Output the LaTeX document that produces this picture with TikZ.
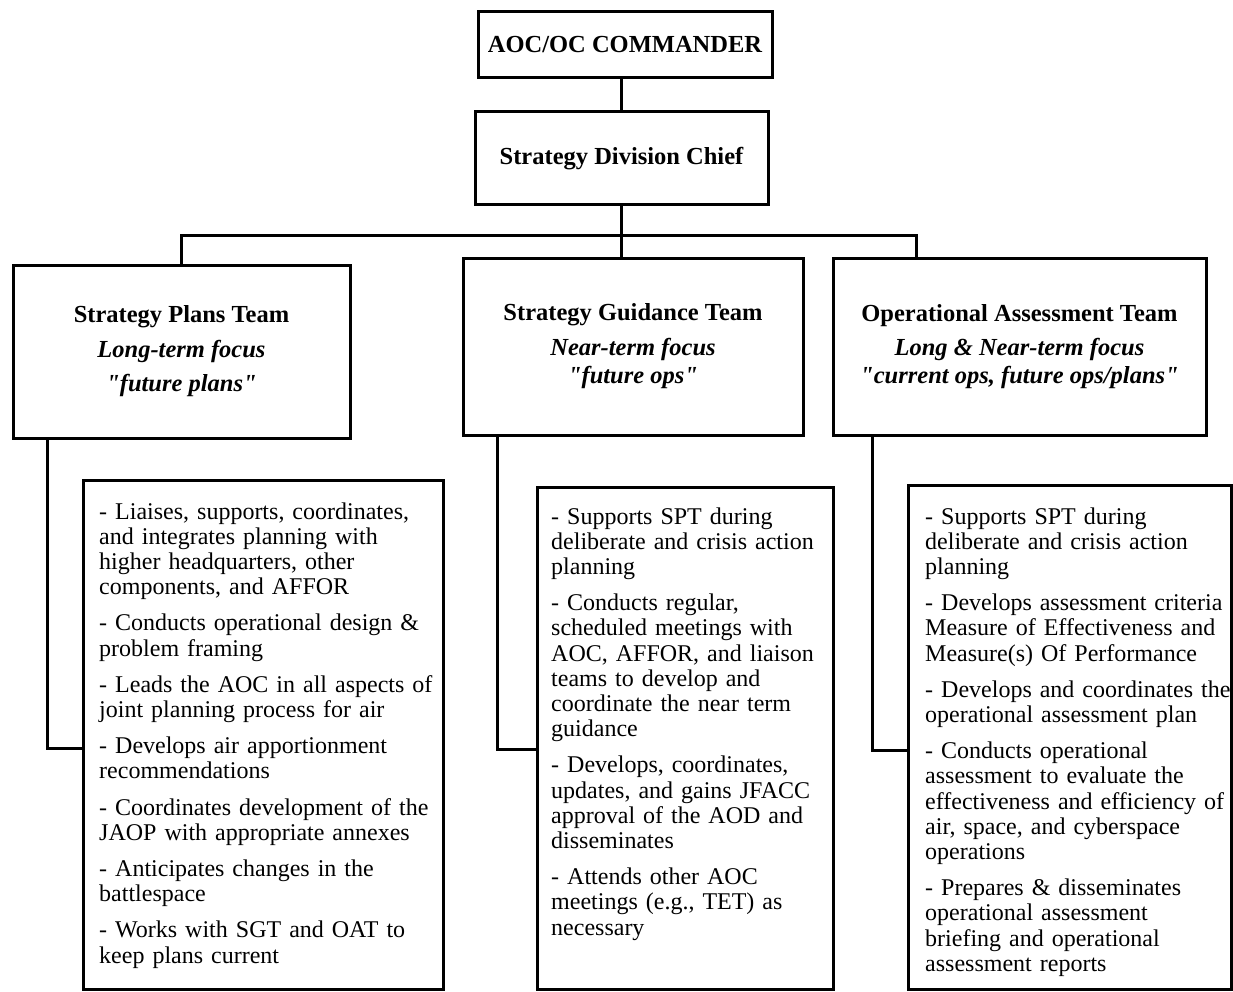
\documentclass[tikz,border=0pt]{standalone}
\usepackage{fontspec}
% no TeX input mapping, so " stays a straight double quote
\setmainfont{Liberation Serif}[Ligatures=TeXOff]
\begin{document}
\begin{tikzpicture}[x=1pt,y=-1pt,
  box/.style={draw, line width=3pt, inner sep=0pt, align=center},
  conn/.style={line width=3pt},
  headfont/.style={font=\fontsize{24.5}{25}\selectfont\bfseries},
  bodytext/.style={inner sep=0pt, anchor=base west, text width=360pt, align=left,
                   font=\fontsize{24}{25.2}\selectfont}]
\useasboundingbox[fill=white] (0,0) rectangle (1233,992);

% command chain
\node[box, headfont, minimum width=294pt, minimum height=66pt] (cmd) at (625,45) {AOC/OC COMMANDER};
\node[box, headfont, minimum width=293pt, minimum height=93pt] (chief) at (621.5,158.5) {Strategy Division Chief};

% team boxes
\node[box, headfont, minimum width=337pt, minimum height=173pt] (spt) at (181.5,351.5)
  {Strategy Plans Team\\[10pt]\textit{Long-term focus}\\[9pt]\textit{"future plans"}};
\node[box, headfont, minimum width=340pt, minimum height=177pt] (sgt) at (633,346.5)
  {Strategy Guidance Team\\[10pt]\textit{Near-term focus}\\[3pt]\textit{"future ops"}};
\node[box, headfont, minimum width=373pt, minimum height=177pt] (oat) at (1019.5,346.5)
  {Operational Assessment Team\\[9pt]\textit{Long \& Near-term focus}\\[3pt]\textit{"current ops, future ops/plans"}};

% duty boxes
\node[box, minimum width=360pt, minimum height=509pt] (sptd) at (263,734.5) {};
\node[box, minimum width=296pt, minimum height=502pt] (sgtd) at (685,738) {};
\node[box, minimum width=323pt, minimum height=504pt] (oatd) at (1069.5,737) {};

\node[bodytext] (sptt) at (99,519) {%
- Liaises, supports, coordinates,\\ and integrates planning with\\ higher headquarters, other\\ components, and AFFOR\\[11pt]
- Conducts operational design \&\\ problem framing\\[11pt]
- Leads the AOC in all aspects of\\ joint planning process for air\\[11pt]
- Develops air apportionment\\ recommendations\\[11pt]
- Coordinates development of the\\ JAOP with appropriate annexes\\[11pt]
- Anticipates changes in the\\ battlespace\\[11pt]
- Works with SGT and OAT to\\ keep plans current};

\node[bodytext] (sgtt) at (551,524) {%
- Supports SPT during\\ deliberate and crisis action\\ planning\\[11pt]
- Conducts regular,\\ scheduled meetings with\\ AOC, AFFOR, and liaison\\ teams to develop and\\ coordinate the near term\\ guidance\\[11pt]
- Develops, coordinates,\\ updates, and gains JFACC\\ approval of the AOD and\\ disseminates\\[11pt]
- Attends other AOC\\ meetings (e.g., TET) as\\ necessary};

\node[bodytext] (oatt) at (925,524) {%
- Supports SPT during\\ deliberate and crisis action\\ planning\\[11pt]
- Develops assessment criteria\\ Measure of Effectiveness and\\ Measure(s) Of Performance\\[11pt]
- Develops and coordinates the\\ operational assessment plan\\[11pt]
- Conducts operational\\ assessment to evaluate the\\ effectiveness and efficiency of\\ air, space, and cyberspace\\ operations\\[11pt]
- Prepares \& disseminates\\ operational assessment\\ briefing and operational\\ assessment reports};

% connectors
\coordinate (bus) at (916,236);
\draw[conn] (chief.north) -- (chief.north |- cmd.south);
\draw[conn] (chief.south) -- (chief.south |- sgt.north);
\draw[conn] (spt.north) |- (bus) -- (bus |- oat.north);

\coordinate (lx) at (47,748);
\coordinate (mx) at (497,749);
\coordinate (rx) at (872,750);
\draw[conn] (spt.south -| lx) |- (sptd.west |- lx);
\draw[conn] (sgt.south -| mx) |- (sgtd.west |- mx);
\draw[conn] (oat.south -| rx) |- (oatd.west |- rx);
\end{tikzpicture}
\end{document}
